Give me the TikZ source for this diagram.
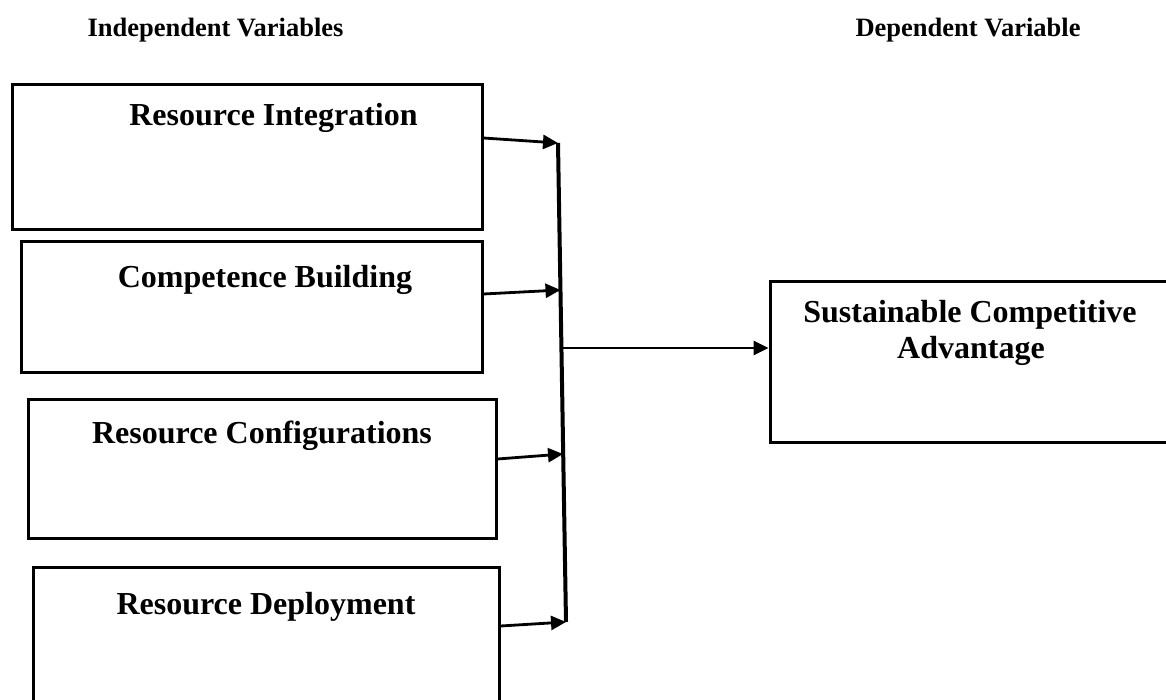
\documentclass[tikz,border=0pt]{standalone}
\usepackage{fontspec}
\setmainfont{Liberation Serif}
\usetikzlibrary{arrows.meta,positioning}

\begin{document}
\begin{tikzpicture}[x=1pt,y=-1pt,
    box/.style={draw, line width=3pt, rectangle, inner sep=0pt},
    title/.style={font=\bfseries\fontsize{32}{36}\selectfont, inner sep=0pt, anchor=base},
    head/.style={font=\bfseries\fontsize{26.5}{30}\selectfont, inner sep=0pt, anchor=base},
    link/.style={line width=2.8pt, -{Triangle[length=15pt,width=14pt]}}]
    \useasboundingbox (0,0) rectangle (1166,700);
    \clip (0,0) rectangle (1166,700);

    % headings
    \node[head] (indep) at (215.5,37) {Independent Variables};
    \node[head] (dep) at (968,37) {Dependent Variable};

    % independent variable boxes
    \node[box, minimum width=470pt, minimum height=145pt] (ri) at (247,157.5) {};
    \node[box, minimum width=461pt, minimum height=130pt] (cb) at (251.5,307) {};
    \node[box, minimum width=468pt, minimum height=139pt] (rc) at (262,468.5) {};
    \node[box, minimum width=466pt, minimum height=143pt] (rd) at (266,638.5) {};
    \node[title] (ritext) at (273.5,126) {Resource Integration};
    \node[title] (cbtext) at (265,288) {Competence Building};
    \node[title] (rctext) at (262,443) {Resource Configurations};
    \node[title] (rdtext) at (266,614) {Resource Deployment};

    % dependent variable box
    \node[box, minimum width=402pt, minimum height=160pt] (sca) at (971,362) {};
    \node[title] (scatext1) at (970,322) {Sustainable Competitive};
    \node[title] (scatext2) at (971,358) {Advantage};

    % bus line and joints
    \coordinate (bustop) at (558,143);
    \coordinate (busbot) at (566,622);
    \coordinate (j2) at (560.5,290);
    \coordinate (j3) at (563,454);
    \coordinate (hub) at (561.4,348);
    \draw[line width=4pt] (bustop) -- (busbot);

    \draw[link] ([yshift=19.5pt]ri.east) -- (bustop);
    \draw[link] ([yshift=13pt]cb.east) -- (j2);
    \draw[link] ([yshift=9.5pt]rc.east) -- (j3);
    \draw[link] ([yshift=12.5pt]rd.east) -- (busbot);
    \draw[link] (hub) -- ([yshift=14pt]sca.west);
\end{tikzpicture}
\end{document}
